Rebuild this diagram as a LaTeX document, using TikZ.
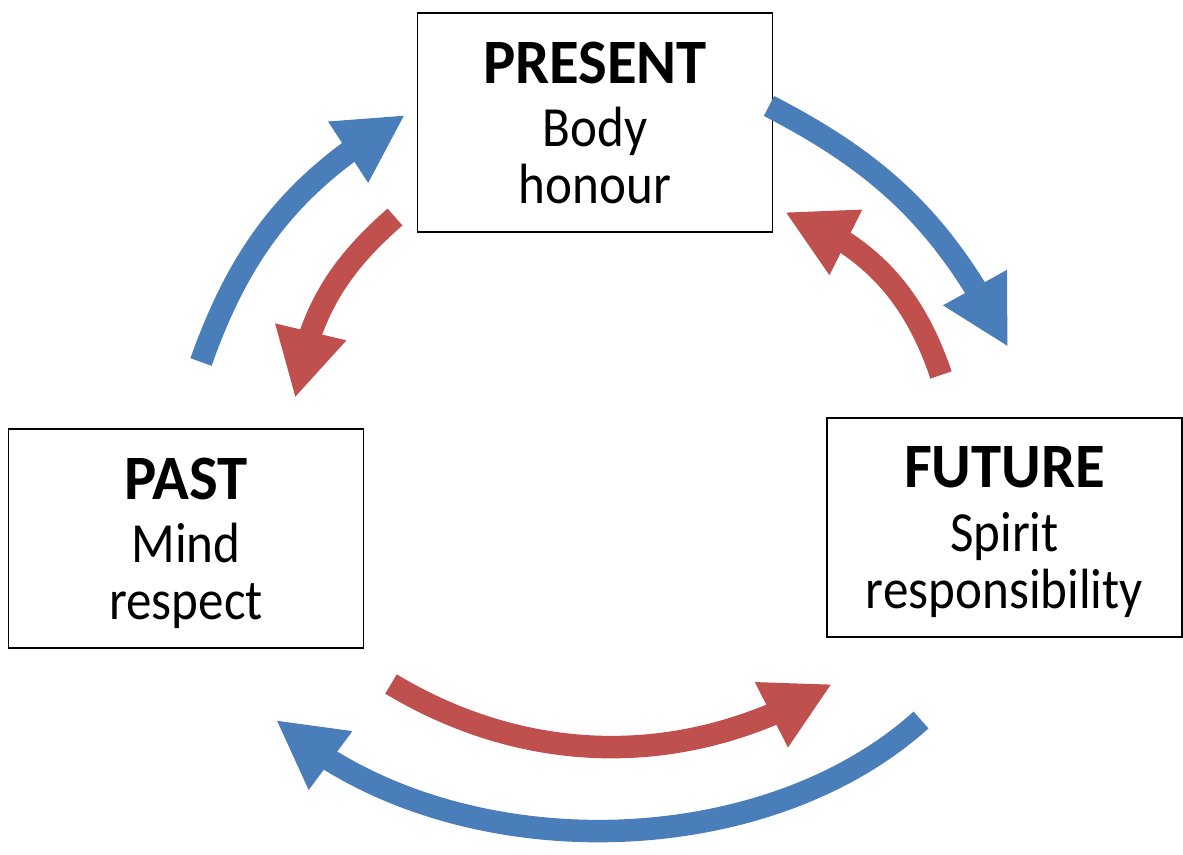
\documentclass[tikz,border=0pt]{standalone}
\usepackage{fontspec}
\setmainfont{Carlito}[FakeStretch=0.90]
\newfontfamily\titlefont{Carlito}[FakeStretch=0.96]
\usepackage{tikz}
\usepackage{xcolor}
\usetikzlibrary{arrows.meta,bending,positioning,calc}
\definecolor{cycblue}{RGB}{74,126,187}
\definecolor{cycred}{RGB}{192,80,77}
\newcommand{\phasetitle}[1]{{\titlefont\bfseries\fontsize{36}{33}\selectfont #1}}

\begin{document}
\begin{tikzpicture}[
    x=0.02cm, y=-0.02cm,
    timebox/.style={rectangle, draw=black, line width=1pt, inner sep=0,
        minimum width=7.1cm, minimum height=4.38cm, align=center,
        font=\fontsize{32.3}{32.5}\selectfont},
    flow/.style={line width=0.45cm, -{Triangle[length=1.36cm, width=1.36cm]}},
    outerflow/.style={flow, draw=cycblue},
    innerflow/.style={flow, draw=cycred}]
\useasboundingbox (0,0) rectangle (1183,855);

\node[timebox] (present) at (595,122.5)  {\phasetitle{PRESENT}\\[3.5pt]Body\\\smash{honour}};
\node[timebox] (past)    at (186,538.5)  {\phasetitle{PAST}\\[3.5pt]Mind\\\smash{respect}};
\node[timebox] (future)  at (1004.5,527.5) {\phasetitle{FUTURE}\\[3.5pt]Spirit\\\smash{responsibility}};

\coordinate (pastout)    at (201,362);
\coordinate (presentin)  at (405,115);
\coordinate (presentout) at (769,106);
\coordinate (futurein)   at (1008,347);
\coordinate (futureout)  at (921,720);
\coordinate (pastin)     at (276,720);

\coordinate (presentback) at (395,217);
\coordinate (pastback)    at (295,398);
\coordinate (futureback)  at (941,375);
\coordinate (presentret)  at (785,212);
\coordinate (pastfwd)     at (391,684);
\coordinate (futurefwd)   at (832,684);

\draw[outerflow] (pastout) to[bend left=20] (presentin);
\draw[outerflow] (presentout) to[bend left=18] (futurein);
\draw[outerflow] (futureout) to[bend left=42, looseness=0.88] (pastin);

\draw[innerflow] (presentback) to[bend right=20] (pastback);
\draw[innerflow] (futureback) to[bend right=25] (presentret);
\draw[innerflow] (pastfwd) to[bend right=31, looseness=0.95] (futurefwd);

\end{tikzpicture}
\end{document}
